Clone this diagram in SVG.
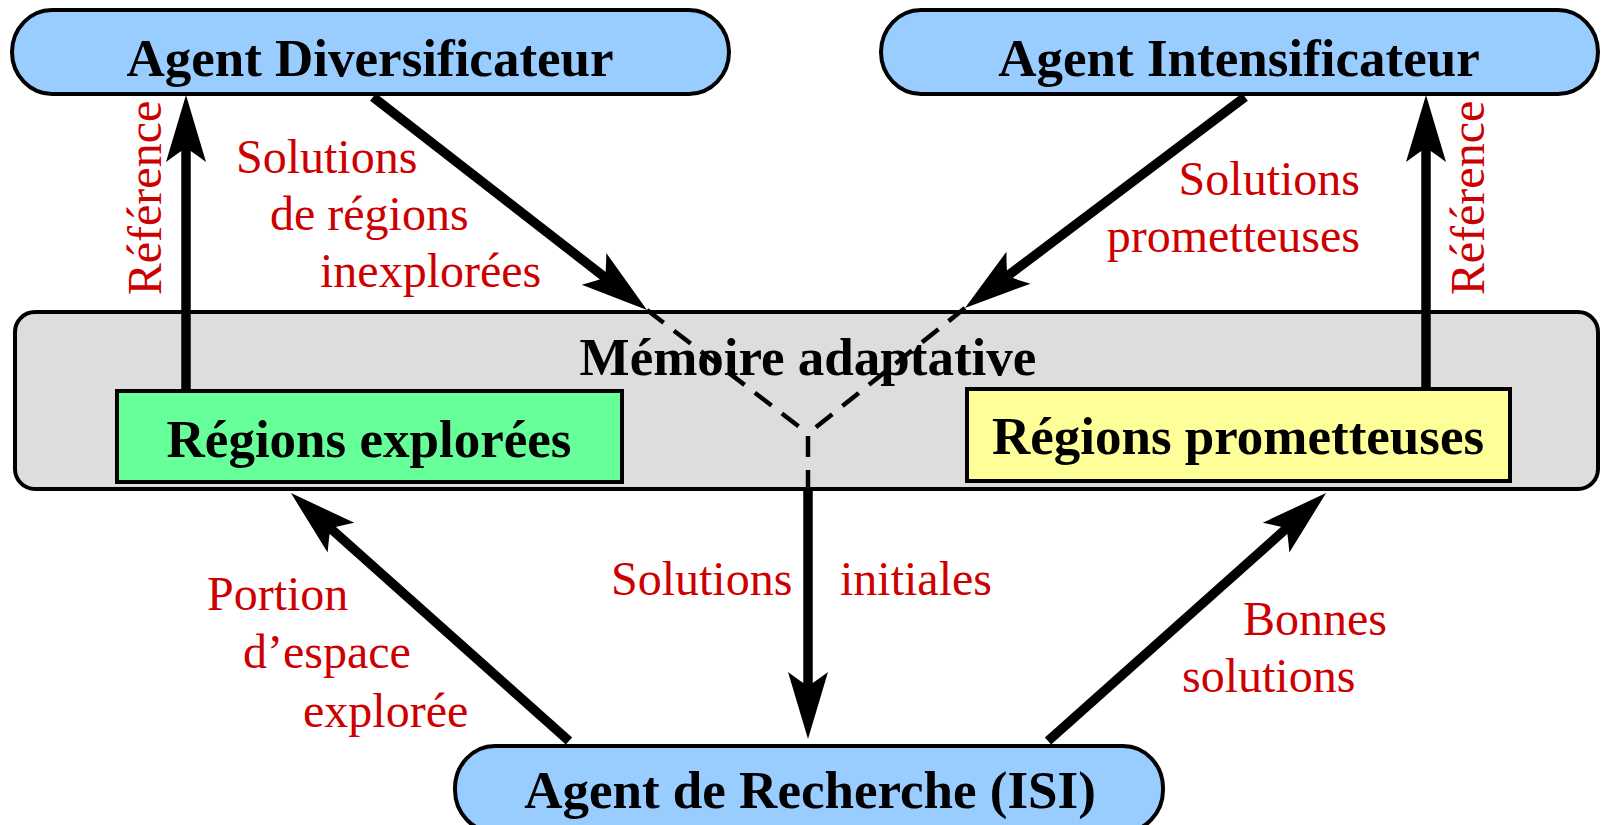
<svg xmlns="http://www.w3.org/2000/svg" width="1603" height="825" viewBox="0 0 1603 825">
<style>
.node{stroke:#000;stroke-width:4}
.agent{fill:#99ccff}
.mem{fill:#dddddd}
.expl{fill:#66ff99}
.prom{fill:#ffff99}
.title{font-family:"Liberation Serif","Times New Roman",serif;font-weight:bold;font-size:53px;fill:#000;text-anchor:middle}
.lbl{font-family:"Liberation Serif","Times New Roman",serif;font-size:48px;fill:#cc0000}
.arrow{fill:none;stroke:#000;stroke-width:9.5;marker-end:url(#head)}
.dash{fill:none;stroke:#000;stroke-width:4.5;stroke-dasharray:21 13}
</style>
<defs>
<marker id="head" markerUnits="userSpaceOnUse" viewBox="0 -22 70 44" refX="16" refY="0" markerWidth="70" markerHeight="44" orient="auto" overflow="visible">
<path d="M67,0 L0,-20 Q9,-8 14,0 Q9,8 0,20 Z" fill="#000"/>
</marker>
</defs>
<rect width="1603" height="825" fill="#fff"/>
<g id="memoire-adaptative">
<rect class="node mem" x="15" y="312" width="1583" height="177" rx="20" ry="20"/>
<text class="title" x="808" y="375">Mémoire adaptative</text>
</g>
<g id="regions-explorees">
<rect class="node expl" x="117" y="391" width="505" height="91"/>
<text class="title" x="369" y="457">Régions explorées</text>
</g>
<g id="regions-prometteuses">
<rect class="node prom" x="967" y="389" width="543" height="92"/>
<text class="title" x="1238" y="454">Régions prometteuses</text>
</g>
<g id="agent-diversificateur">
<rect class="node agent" x="12" y="10" width="717" height="84" rx="40" ry="42"/>
<text class="title" x="370" y="76">Agent Diversificateur</text>
</g>
<g id="agent-intensificateur">
<rect class="node agent" x="881" y="10" width="717" height="84" rx="40" ry="42"/>
<text class="title" x="1239" y="76">Agent Intensificateur</text>
</g>
<g id="agent-recherche">
<rect class="node agent" x="455" y="746" width="708" height="86" rx="40" ry="42"/>
<text class="title" x="810" y="808">Agent de Recherche (ISI)</text>
</g>
<g id="connectors">
<path class="arrow" d="M186,390 L186,146"/>
<path class="arrow" d="M1426,389 L1426,146"/>
<path class="arrow" d="M373,97 L606.7,278.7"/>
<path class="arrow" d="M1245,97 L1005.7,277.3"/>
<path class="arrow" d="M808,490 L808,688"/>
<path class="arrow" d="M569,741 L329,527"/>
<path class="arrow" d="M1048,741 L1288,527"/>
<path class="dash" d="M647,310 L806,432"/>
<path class="dash" d="M965,308 L810,432"/>
<path class="dash" d="M808,436 L808,490"/>
</g>
<g id="labels">
<text class="lbl" transform="translate(161,198) rotate(-90)" text-anchor="middle">Référence</text>
<text class="lbl" transform="translate(1484,198) rotate(-90)" text-anchor="middle">Référence</text>
<text class="lbl" x="236" y="173">Solutions</text>
<text class="lbl" x="270" y="230">de régions</text>
<text class="lbl" x="320" y="287">inexplorées</text>
<text class="lbl" x="1360" y="195" text-anchor="end">Solutions</text>
<text class="lbl" x="1360" y="252" text-anchor="end">prometteuses</text>
<text class="lbl" x="207" y="610">Portion</text>
<text class="lbl" x="243" y="668">d’espace</text>
<text class="lbl" x="303" y="727">explorée</text>
<text class="lbl" x="611" y="595">Solutions</text>
<text class="lbl" x="840" y="595">initiales</text>
<text class="lbl" x="1243" y="635">Bonnes</text>
<text class="lbl" x="1182" y="692">solutions</text>
</g>
</svg>
